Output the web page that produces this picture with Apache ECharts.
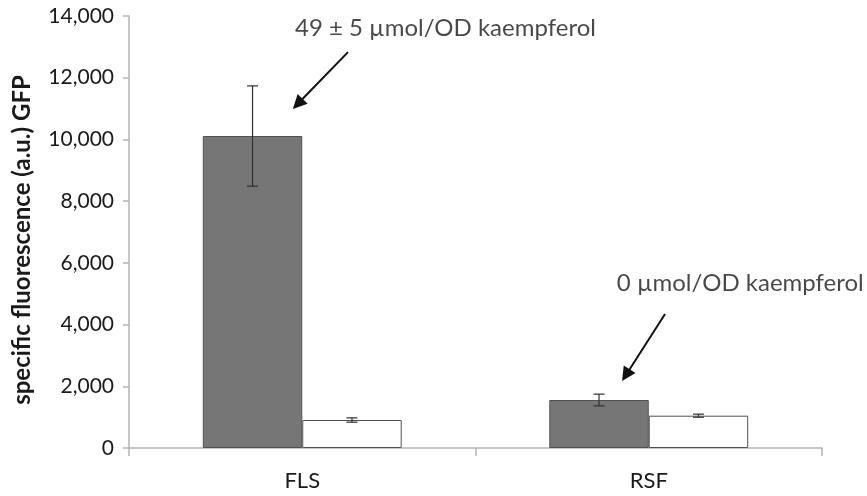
<!DOCTYPE html>
<html>
<head>
<meta charset="utf-8">
<script src="https://cdn.jsdelivr.net/npm/echarts@6/dist/echarts.min.js"></script>
<style>html,body{margin:0;padding:0;background:#fff}#c{width:867px;height:496px}</style>
</head>
<body>
<div id="c"></div>
<script>
// ---- data ----
const categories = ['FLS', 'RSF'];
const sampleMeans = [10110, 1556];
const sampleErrors = [1625, 190];
const controlMeans = [907, 1047];
const controlErrors = [70, 50];
const yTicks = [0, 2000, 4000, 6000, 8000, 10000, 12000, 14000];
const yTitle = 'specific fluorescence (a.u.) GFP';
// annotations: text anchor [x in category units, y value], arrow [x1, y1, x2(tip), y2(tip)]
const annotationTexts = ['49 \u00b1 5 \u00b5mol/OD kaempferol', '0 \u00b5mol/OD kaempferol'];
const annotationAnchors = [[0.479, 13610], [1.408, 5350]];
const annotationArrows = [[0.632, 12830, 0.473, 10990], [1.547, 4340, 1.423, 2170]];

const FONT = 'Lato';
const BAR_FRAC = 0.287;
const TXT = '#1a1a1a';
const chart = echarts.init(document.getElementById('c'), null, {renderer: 'canvas'});

function errData(means, errs) {
  return means.map((m, i) => [i, m - errs[i], m + errs[i]]);
}
function errRender(sign) {
  return function (params, api) {
    const band = api.size([1, 0])[0];
    const off = sign * band * BAR_FRAC / 2;
    const lo = api.coord([api.value(0), api.value(1)]);
    const hi = api.coord([api.value(0), api.value(2)]);
    const x = lo[0] + off;
    const cap = 5.5;
    const st = {stroke: '#303030', lineWidth: 1.2};
    return {type: 'group', children: [
      {type: 'line', shape: {x1: x, y1: lo[1], x2: x, y2: hi[1]}, style: st},
      {type: 'line', shape: {x1: x - cap, y1: lo[1], x2: x + cap, y2: lo[1]}, style: st},
      {type: 'line', shape: {x1: x - cap, y1: hi[1], x2: x + cap, y2: hi[1]}, style: st}
    ]};
  };
}

const option = {
  animation: false,
  backgroundColor: '#ffffff',
  grid: {left: 129, right: 45, top: 16, bottom: 48, containLabel: false, outerBoundsMode: 'none'},
  xAxis: [{
    type: 'category', data: categories,
    axisLine: {lineStyle: {color: '#b5b5b5', width: 1.5}},
    axisTick: {show: true, length: 8, lineStyle: {color: '#b5b5b5', width: 1.5}},
    axisLabel: {color: TXT, fontFamily: FONT, fontSize: 22, margin: 22}
  }, {
    type: 'value', min: 0, max: 2, show: false
  }],
  yAxis: {
    type: 'value', min: yTicks[0], max: yTicks[yTicks.length - 1], interval: yTicks[1] - yTicks[0],
    name: yTitle, nameLocation: 'middle', nameGap: 95,
    nameTextStyle: {fontFamily: FONT, fontWeight: 'bold', fontSize: 24, color: TXT, padding: [0, 16, 0, 0]},
    axisLine: {show: true, lineStyle: {color: '#b5b5b5', width: 1.5}},
    axisTick: {show: true, length: 6, lineStyle: {color: '#b5b5b5', width: 1.5}},
    splitLine: {show: false},
    axisLabel: {color: TXT, fontFamily: FONT, fontSize: 21, margin: 15,
      formatter: v => v.toLocaleString('en-US')}
  },
  series: [
    {type: 'bar', data: sampleMeans, barWidth: (BAR_FRAC * 100) + '%', barGap: '0%',
      itemStyle: {color: '#767676', borderColor: '#505050', borderWidth: 1}},
    {type: 'bar', data: controlMeans, barWidth: (BAR_FRAC * 100) + '%', barGap: '0%',
      itemStyle: {color: '#ffffff', borderColor: '#505050', borderWidth: 1}},
    {type: 'custom', data: errData(sampleMeans, sampleErrors), renderItem: errRender(-1), z: 5},
    {type: 'custom', data: errData(controlMeans, controlErrors), renderItem: errRender(1), z: 5},
    {type: 'custom', xAxisIndex: 1, data: annotationArrows, z: 6,
      renderItem: function (params, api) {
        const p1 = api.coord([api.value(0), api.value(1)]);
        const p2 = api.coord([api.value(2), api.value(3)]);
        const dx = p2[0] - p1[0], dy = p2[1] - p1[1];
        const len = Math.sqrt(dx * dx + dy * dy);
        const ux = dx / len, uy = dy / len;
        const hl = 14, hw = 7;
        const bx = p2[0] - ux * hl, by = p2[1] - uy * hl;
        return {type: 'group', children: [
          {type: 'line', shape: {x1: p1[0], y1: p1[1], x2: bx + ux * 2, y2: by + uy * 2},
            style: {stroke: '#111', lineWidth: 2}},
          {type: 'polygon', shape: {points: [[p2[0], p2[1]], [bx - uy * hw, by + ux * hw], [bx + uy * hw, by - ux * hw]]},
            style: {fill: '#111'}}
        ]};
      }},
    {type: 'scatter', xAxisIndex: 1, symbolSize: 0, z: 6,
      data: annotationAnchors.map((a, i) => ({value: a, name: annotationTexts[i]})),
      label: {show: true, position: 'right', distance: 0, formatter: p => p.name,
        fontFamily: FONT, fontSize: 24, color: TXT}}
  ]
};
chart.setOption(option);
</script>
</body>
</html>
